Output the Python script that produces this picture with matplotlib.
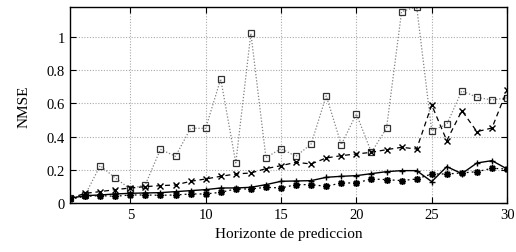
import numpy as np
import matplotlib.pyplot as plt
from matplotlib.ticker import FixedLocator, FixedFormatter

# Horizonte de prediccion (1..30)
horizonte = list(range(1, 31))

# NMSE por modelo
nmse_cuadros = [0.03, 0.05, 0.226, 0.152, 0.086, 0.112, 0.324, 0.282, 0.45, 0.45,
                0.746, 0.242, 1.02, 0.274, 0.328, 0.282, 0.356, 0.645, 0.352, 0.536,
                0.306, 0.45, 1.15, 1.18, 0.436, 0.474, 0.675, 0.636, 0.62, 0.633]
nmse_cruces = [0.03, 0.06, 0.07, 0.082, 0.092, 0.10, 0.106, 0.11, 0.132, 0.146,
               0.162, 0.176, 0.182, 0.208, 0.226, 0.246, 0.236, 0.272, 0.286, 0.296,
               0.306, 0.322, 0.336, 0.326, 0.59, 0.376, 0.556, 0.43, 0.452, 0.68]
nmse_mas = [0.03, 0.046, 0.05, 0.056, 0.06, 0.062, 0.064, 0.07, 0.076, 0.082,
            0.092, 0.092, 0.096, 0.112, 0.132, 0.134, 0.136, 0.156, 0.162, 0.166,
            0.178, 0.19, 0.196, 0.196, 0.13, 0.22, 0.178, 0.242, 0.256, 0.206]
nmse_estrella = [0.025, 0.042, 0.046, 0.042, 0.05, 0.05, 0.048, 0.05, 0.056, 0.056,
                 0.066, 0.086, 0.086, 0.096, 0.092, 0.112, 0.112, 0.102, 0.122, 0.122,
                 0.146, 0.142, 0.136, 0.146, 0.176, 0.176, 0.182, 0.19, 0.21, 0.206]

yticks = [0, 0.2, 0.4, 0.6, 0.8, 1]
yticklabels = ['0', '0.2', '0.4', '0.6', '0.8', '1']
xticks = [5, 10, 15, 20, 25, 30]

plt.rcParams['font.family'] = ['Liberation Serif', 'DejaVu Serif']
plt.rcParams['font.size'] = 10.5

fig = plt.figure(figsize=(5.16, 2.53), dpi=100)
ax = fig.add_axes([0.1357, 0.1925, 0.847, 0.7745])

ax.plot(horizonte, nmse_cuadros, color='#808080', linestyle=(0, (1, 1.5)), linewidth=0.9,
        marker='s', markersize=4, markerfacecolor='none', markeredgecolor='#333333',
        markeredgewidth=0.9)
ax.plot(horizonte, nmse_cruces, color='black', linestyle=(0, (4, 3)), linewidth=0.9,
        marker='x', markersize=4, markeredgewidth=1.0)
ax.plot(horizonte, nmse_mas, color='black', linestyle='-', linewidth=1.0,
        marker='+', markersize=5, markeredgewidth=1.0)
ax.plot(horizonte, nmse_estrella, color='black', linestyle=(0, (1.5, 2.5)), linewidth=0.9,
        marker=(8, 2, 0), markersize=5, markeredgewidth=1.1)

ax.set_xlim(1, 30)
ax.set_ylim(0, 1.176)
ax.xaxis.set_major_locator(FixedLocator(xticks))
ax.yaxis.set_major_locator(FixedLocator(yticks))
ax.yaxis.set_major_formatter(FixedFormatter(yticklabels))
ax.tick_params(direction='in', top=True, right=True, length=4, width=0.8, labelsize=10.5)
ax.grid(True, color='#aaaaaa', linestyle=(0, (1, 1.5)), linewidth=0.8)
for s in ax.spines.values():
    s.set_linewidth(1.0)

ax.set_xlabel('Horizonte de prediccion', fontsize=11)
ax.set_ylabel('NMSE', fontsize=11, labelpad=12)

fig.savefig('out.png', dpi=100)
